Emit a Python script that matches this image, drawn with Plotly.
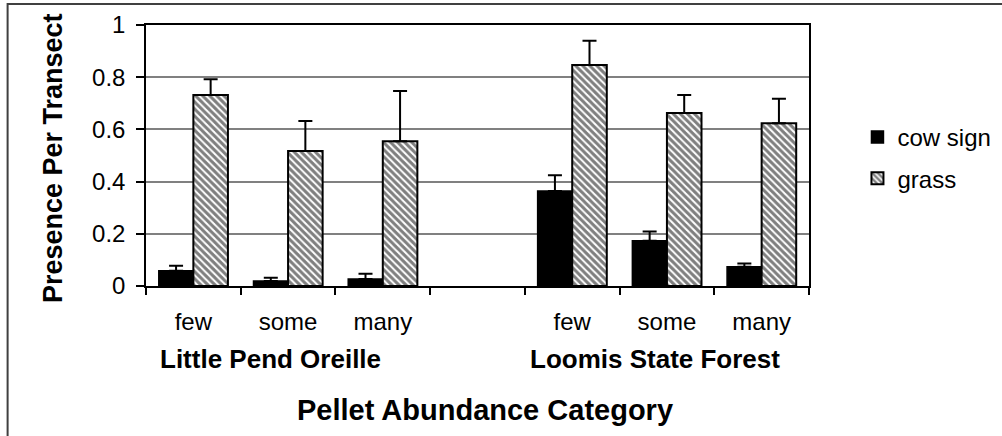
import plotly.graph_objects as go

# Pellet abundance categories for the two study sites (blank spacer between sites)
categories = ["LPO few", "LPO some", "LPO many", "spacer", "LSF few", "LSF some", "LSF many"]
tick_labels = ["few", "some", "many", "", "few", "some", "many"]
site_labels = ["Little Pend Oreille", "Loomis State Forest"]

# Mean presence per transect and upper error (one-sided)
cow_sign = [0.058, 0.019, 0.027, None, 0.364, 0.173, 0.074]
cow_sign_err = [0.020, 0.013, 0.020, 0, 0.060, 0.036, 0.012]
grass = [0.732, 0.517, 0.555, None, 0.847, 0.663, 0.624]
grass_err = [0.060, 0.115, 0.192, 0, 0.093, 0.069, 0.093]

FONT = "Liberation Sans, Arial, sans-serif"
W, H = 1002, 436
L, R, T, B = 146, 192.5, 25, 150
PW, PH = W - L - R, H - T - B


def px_x(p):
    return (p - L) / PW


def px_y(p):
    return (H - B - p) / PH


def err(vals):
    return dict(type="data", array=vals, symmetric=False, arrayminus=[0] * len(vals),
                color="black", thickness=2, width=7)


fig = go.Figure()
fig.add_bar(
    x=categories, y=cow_sign, name="cow sign", legendgroup="a",
    marker=dict(color="black", line=dict(color="black", width=1.5)),
    error_y=err(cow_sign_err),
)
fig.add_bar(
    x=categories, y=grass, name="grass", legendgroup="b",
    marker=dict(color="white", line=dict(color="black", width=2),
                pattern=dict(shape="\\", fgcolor="black", bgcolor="white", size=5, solidity=0.6)),
    error_y=err(grass_err),
)

fig.update_layout(
    width=W, height=H,
    margin=dict(l=L, r=R, t=T, b=B, pad=0, autoexpand=False),
    paper_bgcolor="white", plot_bgcolor="white",
    barmode="group", bargap=0.27, bargroupgap=0,
    font=dict(family=FONT, color="black", size=24),
    legend=dict(x=px_x(858), y=px_y(115), xanchor="left", yanchor="top",
                font=dict(size=24), tracegroupgap=7, bgcolor="rgba(0,0,0,0)"),
    xaxis=dict(
        type="category", categoryorder="array", categoryarray=categories,
        tickmode="array", tickvals=categories, ticktext=tick_labels,
        tickson="boundaries", ticks="outside", ticklen=7, tickwidth=1.5, tickcolor="black",
        showline=True, linecolor="black", linewidth=1.5, mirror=True,
        showgrid=False, tickfont=dict(size=24), ticklabelstandoff=13,
    ),
    yaxis=dict(
        range=[0, 1], dtick=0.2, tick0=0,
        ticks="outside", ticklen=8, tickwidth=1.5, tickcolor="black",
        showline=True, linecolor="black", linewidth=1.5, mirror=True,
        showgrid=True, gridcolor="#808080", gridwidth=2, zeroline=False,
        tickfont=dict(size=24), ticklabelstandoff=6,
    ),
    shapes=[dict(type="rect", xref="paper", yref="paper",
                 x0=px_x(7.5), y0=px_y(460), x1=px_x(1020), y1=px_y(4),
                 line=dict(color="#404040", width=2), fillcolor="rgba(0,0,0,0)")],
    annotations=[
        dict(text=site_labels[0], xref="x", yref="paper", x=0.81, y=px_y(359),
             xanchor="center", yanchor="middle",
             showarrow=False, font=dict(size=26, weight="bold")),
        dict(text=site_labels[1], xref="x", yref="paper", x=4.87, y=px_y(359),
             xanchor="center", yanchor="middle",
             showarrow=False, font=dict(size=26, weight="bold")),
        dict(text="Pellet Abundance Category", xref="paper", yref="paper",
             x=px_x(485), y=px_y(410), xanchor="center", yanchor="middle",
             showarrow=False, font=dict(size=29, weight="bold")),
        dict(text="Presence Per Transect", xref="paper", yref="paper", textangle=-90,
             x=px_x(53), y=px_y(158), xanchor="center", yanchor="middle",
             showarrow=False, font=dict(size=27, weight="bold")),
    ],
)

fig.write_html("out.html")
